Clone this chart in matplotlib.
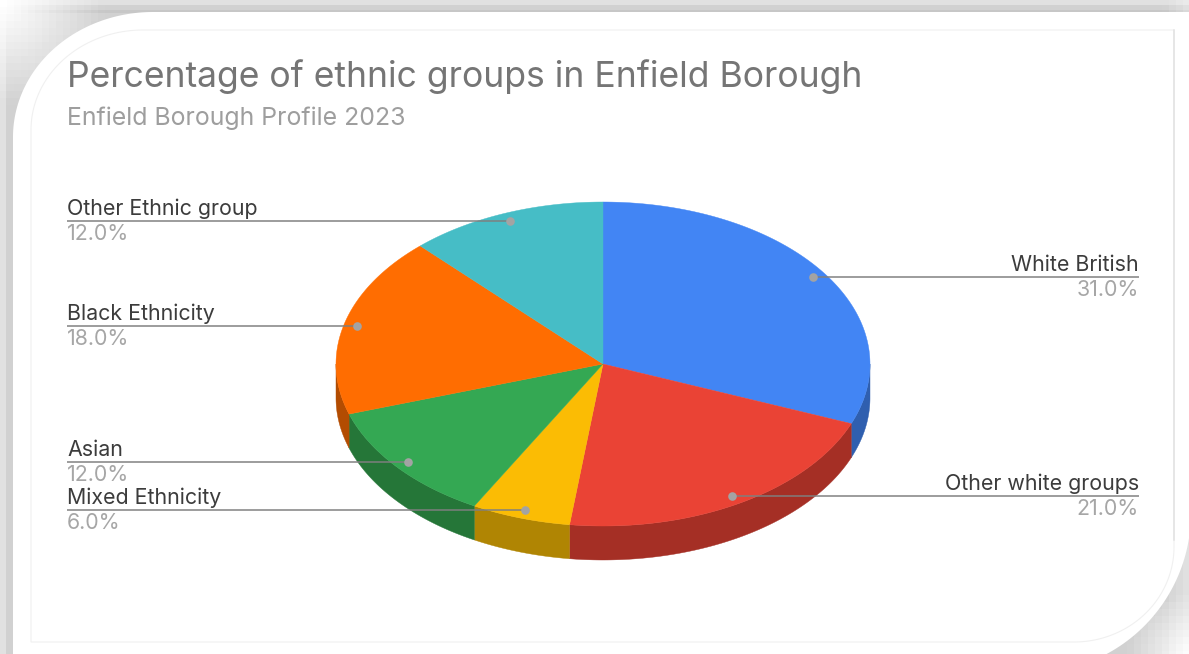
import matplotlib
matplotlib.use("Agg")
import matplotlib.pyplot as plt
import numpy as np
from matplotlib.patches import Polygon

plt.rcParams['font.family'] = ['Inter', 'Liberation Sans', 'DejaVu Sans']

title = "Percentage of ethnic groups in Enfield Borough"
subtitle = "Enfield Borough Profile 2023"
groups = ["White British", "Other white groups", "Mixed Ethnicity", "Asian", "Black Ethnicity", "Other Ethnic group"]
shares = [31.0, 21.0, 6.0, 12.0, 18.0, 12.0]
top_colors = ["#4285F4", "#EA4335", "#FBBC04", "#34A853", "#FF6D01", "#46BDC6"]
side_colors = ["#2F5FAF", "#A52F25", "#B08503", "#257638", "#B34C01", "#318489"]

W, H = 1189, 654
cx, cy, rx, ry = 603, 364, 267, 162
depth = 34


def rim(a, b, n=120):
    # points on the pie edge, angles in degrees clockwise from the top
    t = np.radians(np.linspace(a, b, n))
    return cx + rx * np.sin(t), cy - ry * np.cos(t)


def rounded_card(x0, y0, x1, y1, rtl, rbr):
    # rectangle with only its top-left and bottom-right corners rounded
    t = np.linspace(0, np.pi / 2, 60)
    xs = np.concatenate([x0 + rtl[0] * (1 - np.cos(t)), [x1], x1 - rbr[0] * (1 - np.cos(t)), [x0]])
    ys = np.concatenate([y0 + rtl[1] * (1 - np.sin(t)), [y0], y1 - rbr[1] * (1 - np.sin(t)), [y1]])
    return np.column_stack([xs, ys])


fig = plt.figure(figsize=(W / 100, H / 100), dpi=100)
ax = fig.add_axes([0, 0, 1, 1])
ax.axis('off')

# blocky grey shadow behind the card
yy, xx = np.mgrid[0:H, 0:W]
bx, by = (xx // 7) * 7, (yy // 7) * 7
shadow = np.full((H, W), 0.82)
shadow[:5, :] = 0.88
shadow[:, :6] = 0.88
shadow[10:13, :] = 0.78
fade_tl = np.clip(np.hypot(bx, by) / 100, 0, 1)
fade_tr = np.clip((W - bx) / 70 + 0.6, 0, 1)
fade_br = np.clip(np.hypot(W - bx, H - by) / 65, 0, 1)
shadow = 1 - (1 - shadow) * fade_tl * fade_tr * fade_br
ax.imshow(shadow, cmap='gray', vmin=0, vmax=1, extent=(0, W, H, 0), aspect='auto', zorder=0, interpolation='nearest')
ax.set_xlim(0, W)
ax.set_ylim(H, 0)

# white card and its thin inner outline
ax.add_patch(Polygon(rounded_card(13, 12, 1191, 673, (140, 125), (160, 160)), closed=True, fc='white', ec='none', zorder=1))
ax.add_patch(Polygon(rounded_card(31, 30, 1174, 642, (112, 100), (100, 95)), closed=True, fc='white', ec='#F0F0F0', lw=0.8, zorder=1.5))
ax.plot([1174, 1174], [30, 540], color='#E2E2E2', lw=1.1, zorder=1.6)

ends = np.cumsum(shares) / np.sum(shares) * 360
starts = np.concatenate([[0], ends[:-1]])

# side walls first, only the part facing the front shows
for a, b, c in zip(starts, ends, side_colors):
    lo, hi = max(a, 90), min(b, 270)
    if lo < hi:
        x, y = rim(lo, hi)
        pts = np.column_stack([np.r_[x, x[::-1]], np.r_[y, y[::-1] + depth]])
        ax.add_patch(Polygon(pts, closed=True, fc=c, ec=c, lw=0.3, zorder=2))

# top face of the pie
for a, b, c in zip(starts, ends, top_colors):
    x, y = rim(a, b)
    pts = np.column_stack([np.r_[cx, x], np.r_[cy, y]])
    ax.add_patch(Polygon(pts, closed=True, fc=c, ec=c, lw=0.3, zorder=3))

# leader lines and labels
for name, share, a, b in zip(groups, shares, starts, ends):
    mid = np.radians((a + b) / 2)
    px = cx + 0.95 * rx * np.sin(mid)
    py = cy - 0.95 * ry * np.cos(mid)
    right = np.sin(mid) > 0
    tx = 1139 if right else 67
    ha = 'right' if right else 'left'
    ax.plot([tx, px], [py, py], color='#7F7F7F', lw=1.2, alpha=0.9, zorder=4, solid_capstyle='butt')
    ax.plot([px], [py], 'o', ms=6.2, color='#A3A3A3', mec='none', zorder=5)
    ax.text(tx, py - 6, name, ha=ha, va='baseline', fontsize=15.4, color='#3C3C3C', zorder=6)
    ax.text(tx, py + 19, "%.1f%%" % share, ha=ha, va='baseline', fontsize=15.4, color='#A6A6A6', zorder=6)

ax.text(67, 87, title, ha='left', va='baseline', fontsize=25.6, color='#757575', zorder=6)
ax.text(67, 125, subtitle, ha='left', va='baseline', fontsize=17.9, color='#9E9E9E', zorder=6)

fig.savefig("out.png", dpi=100)
